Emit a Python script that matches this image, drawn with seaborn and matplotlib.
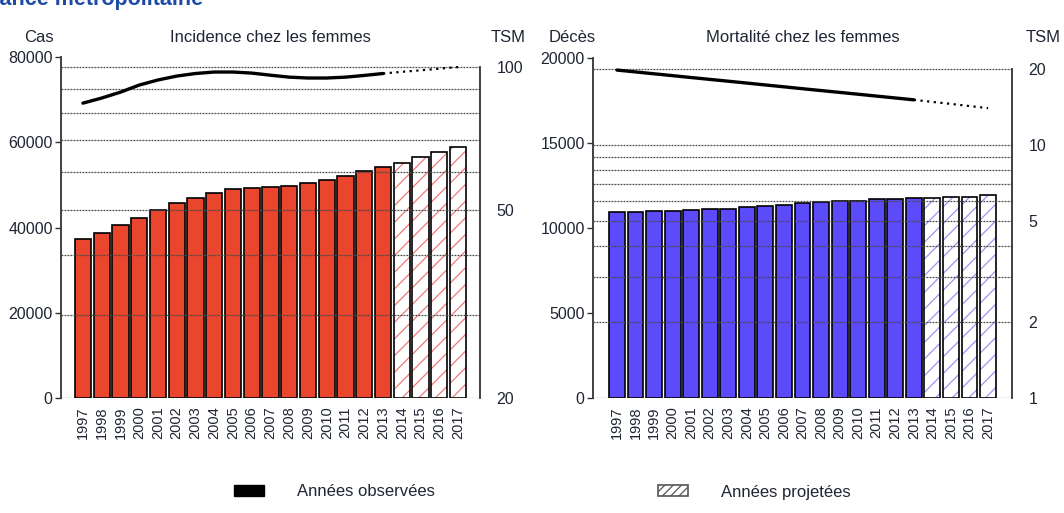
import numpy as np
import matplotlib
matplotlib.use("Agg")
import matplotlib.pyplot as plt
import seaborn as sns
from matplotlib.patches import Patch
from matplotlib.ticker import FixedLocator, NullFormatter


# ── Data ──────────────────────────────────────────────────────────────────────
years = list(range(1997, 2018))
year_labels = [str(y) for y in years]
n_obs = 17                      # 1997-2013 observed, 2014-2017 projected

inc_cases = [37300, 38700, 40500, 42300, 44100, 45700, 46900, 48000, 49000,
             49200, 49400, 49800, 50400, 51100, 52000, 53200, 54100,
             55200, 56500, 57700, 59000]
inc_tsm_obs = [83.9, 86.0, 88.5, 91.6, 93.9, 95.7, 96.9, 97.6, 97.6, 97.1,
               96.1, 95.2, 94.8, 94.8, 95.2, 96.0, 96.9]
inc_tsm_proj = [96.9, 97.7, 98.4, 99.2, 100.0]        # 2013 -> 2017

mort_deaths = [10920, 10920, 11000, 11000, 11050, 11130, 11130, 11210, 11290,
               11370, 11470, 11540, 11600, 11600, 11680, 11680, 11760,
               11760, 11840, 11840, 11920]
mort_tsm_obs = [19.8, 19.47, 19.14, 18.82, 18.5, 18.19, 17.89, 17.59, 17.29,
                17.0, 16.71, 16.43, 16.16, 15.89, 15.62, 15.36, 15.1]
mort_tsm_proj = [15.1, 14.82, 14.55, 14.27, 14.0]

inc_yticks = [0, 20000, 40000, 60000, 80000]
inc_tsm_ticks = [20, 50, 100]
inc_tsm_grid = [20, 30, 40, 50, 60, 70, 80, 90, 100]

mort_yticks = [0, 5000, 10000, 15000, 20000]
mort_tsm_ticks = [1, 2, 5, 10, 20]
mort_tsm_grid = [1, 2, 3, 4, 5, 6, 7, 8, 9, 10, 20]


# ── Style ─────────────────────────────────────────────────────────────────────
sns.set_style("white")
plt.rcParams["font.family"] = ["Liberation Sans", "DejaVu Sans"]
plt.rcParams["hatch.linewidth"] = 0.9
TXT = "#1f2533"
AXC = "#333333"

fig = plt.figure(figsize=(10.64, 5.13), dpi=100)
W, H = 1064, 513


def px_rect(x0, x1, y_top, y_bot):
    return [x0 / W, 1 - y_bot / H, (x1 - x0) / W, (y_bot - y_top) / H]


def panel(rect, counts, tsm_obs, tsm_proj, yticks, tsm_ticks, tsm_grid,
          tsm_top, color, hatch_color, gap):
    ax = fig.add_axes(rect)
    sns.barplot(x=years, y=counts, native_scale=True, color=color,
                saturation=1, width=0.86, edgecolor="black", linewidth=1.2,
                ax=ax)
    for i, p in enumerate(ax.patches):
        if i >= n_obs:
            p.set_facecolor("white")
            p.set_edgecolor(hatch_color)
            p.set_linewidth(0)
            p.set_hatch("//")
    # black outline on top of the projected (hatched) bars
    sns.barplot(x=years[n_obs:], y=counts[n_obs:], native_scale=True,
                fill=False, color="black", width=0.86, linewidth=1.2, ax=ax)

    ax.set_xlim(years[0] - gap, years[-1] + gap)
    ax.set_ylim(0, yticks[-1])
    ax.set_yticks(yticks)
    ax.set_yticklabels([str(v) for v in yticks])
    ax.set_xticks(years)
    ax.set_xticklabels(year_labels, rotation=90)
    ax.tick_params(axis="x", length=0, pad=6, labelsize=10.5, labelcolor=TXT)
    ax.tick_params(axis="y", left=True, length=4, width=1, color=AXC, pad=2,
                   labelsize=11.5, labelcolor=TXT)
    ax.set_xlabel("")
    ax.set_ylabel("")
    for s in ["top", "bottom", "right"]:
        ax.spines[s].set_visible(False)
    ax.spines["left"].set_color(AXC)
    ax.spines["left"].set_linewidth(1.3)

    ax2 = ax.twinx()
    ax2.set_yscale("log")
    sns.lineplot(x=years[:n_obs], y=tsm_obs, color="black", lw=2.4, ax=ax2)
    sns.lineplot(x=years[n_obs - 1:], y=tsm_proj, color="black", lw=1.6,
                 linestyle=(0, (1, 2.0)), ax=ax2)
    ax2.set_ylim(tsm_ticks[0], tsm_top)
    ax2.set_xlim(years[0] - gap, years[-1] + gap)
    ax2.yaxis.set_major_locator(FixedLocator(tsm_ticks))
    ax2.set_yticklabels([str(v) for v in tsm_ticks])
    ax2.yaxis.set_minor_locator(FixedLocator(tsm_grid))
    ax2.yaxis.set_minor_formatter(NullFormatter())
    ax2.tick_params(axis="y", which="both", length=0, pad=12, labelsize=11.5,
                    labelcolor=TXT)
    ax2.grid(True, which="both", axis="y", color="#4a4a4a", lw=0.9,
             linestyle=(0, (1.5, 0.9)))
    ax2.grid(False, axis="x")
    ax2.set_ylabel("")
    for s in ["top", "bottom", "left"]:
        ax2.spines[s].set_visible(False)
    ax2.spines["right"].set_color(AXC)
    ax2.spines["right"].set_linewidth(1.3)
    ax2.spines["right"].set_bounds(tsm_ticks[0], tsm_ticks[-1])
    return ax, ax2


panel(px_rect(61, 480, 57, 398), inc_cases, inc_tsm_obs, inc_tsm_proj,
      inc_yticks, inc_tsm_ticks, inc_tsm_grid, 105.0,
      "#ea452d", "#f07a7a", 1.17)
panel(px_rect(593, 1012, 58, 398), mort_deaths, mort_tsm_obs, mort_tsm_proj,
      mort_yticks, mort_tsm_ticks, mort_tsm_grid, 22.1,
      "#5b4bfb", "#9f93f5", 1.29)

# ── Headers ───────────────────────────────────────────────────────────────────
def ftext(x, y, s, **kw):
    fig.text(x / W, 1 - y / H, s, ha="center", va="center", color=TXT,
             fontsize=12, **kw)


ftext(39, 37, "Cas")
ftext(270, 37, "Incidence chez les femmes")
ftext(508, 37, "TSM")
ftext(572, 37, "Décès")
ftext(803, 37, "Mortalité chez les femmes")
ftext(1043, 37, "TSM")

fig.text(-22 / W, 1 - 5 / H, "France métropolitaine", ha="left",
         va="baseline", color="#1c4aa6", fontsize=15.5, fontweight="bold")

# ── Legend ────────────────────────────────────────────────────────────────────
leg_kw = dict(frameon=False, fontsize=12, handlelength=1.8, handleheight=0.65,
              handletextpad=2.0, borderpad=0, borderaxespad=0,
              loc="center left", labelcolor=TXT)
fig.legend(handles=[Patch(facecolor="black", edgecolor="black")],
           labels=["Années observées"],
           bbox_to_anchor=(234 / W, 1 - 492 / H), **leg_kw)
fig.legend(handles=[Patch(facecolor="white", edgecolor="#555555",
                          hatch="////", linewidth=1.2)],
           labels=["Années projetées"],
           bbox_to_anchor=(658 / W, 1 - 492 / H), **leg_kw)

fig.savefig("out.png", dpi=100)
